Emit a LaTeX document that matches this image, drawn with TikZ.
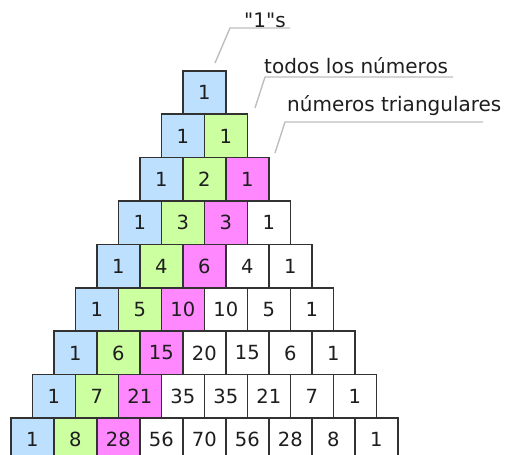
\documentclass[tikz,border=0pt]{standalone}
\usepackage{fontspec}
\setmainfont{DejaVu Sans}[Ligatures=TeXOff]
\definecolor{cblue}{RGB}{190,224,255}
\definecolor{cgreen}{RGB}{204,255,160}
\definecolor{cpink}{RGB}{255,136,255}
\definecolor{cline}{RGB}{190,190,190}
\definecolor{cedge}{RGB}{50,50,50}
\definecolor{ctext}{RGB}{30,30,30}
\tikzset{
  cell/.style={draw=cedge, line width=1.6pt, minimum width=43pt, minimum height=43.4pt,
    inner sep=0pt, anchor=north west, font=\fontsize{19.5}{19.5}\selectfont, text=ctext},
  lbl/.style={font=\fontsize{20}{20}\selectfont, text=ctext, inner sep=0pt, anchor=west},
  leader/.style={draw=cline, line width=1.4pt}
}
\begin{document}
\begin{tikzpicture}[x=1pt,y=-1pt]
\useasboundingbox (0,0) rectangle (506,455);
\foreach \r/\vals in {0/{1},1/{1,1},2/{1,2,1},3/{1,3,3,1},4/{1,4,6,4,1},5/{1,5,10,10,5,1},6/{1,6,15,20,15,6,1},7/{1,7,21,35,35,21,7,1},8/{1,8,28,56,70,56,28,8,1}}{
  \foreach \v [count=\k from 0] in \vals {
    \pgfmathsetmacro{\xx}{182-21.5*\r+43*\k}
    \pgfmathsetmacro{\yy}{70+43.4*\r}
    \ifnum\k=0 \def\fc{cblue}\else\ifnum\k=1 \def\fc{cgreen}\else\ifnum\k=2 \def\fc{cpink}\else\def\fc{white}\fi\fi\fi
    \node[cell, fill=\fc] (c-\r-\k) at (\xx,\yy) {\raisebox{-2pt}{\v}};
  }
}
% labels
\node[lbl] (l1) at (244,20) {"1"s};
\node[lbl] (l2) at (264,66) {todos los números};
\node[lbl] (l3) at (287,106) {números triangulares};
\coordinate (p1) at (215,63);
\coordinate (q1) at (230,28);
\coordinate (e1) at (290,28);
\coordinate (p2) at (255,108);
\coordinate (q2) at (265,77);
\coordinate (e2) at (453,77);
\coordinate (p3) at (275,153);
\coordinate (q3) at (285,122);
\coordinate (e3) at (483,122);
\draw[leader] (p1) -- (q1) -- (e1);
\draw[leader] (p2) -- (q2) -- (e2);
\draw[leader] (p3) -- (q3) -- (e3);
\end{tikzpicture}
\end{document}
